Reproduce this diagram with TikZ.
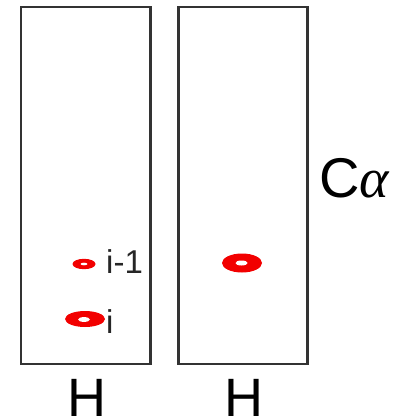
\documentclass[tikz,border=0pt]{standalone}
\usepackage{fontspec}
\setmainfont{Liberation Sans}
\newfontfamily\greekserif{Liberation Serif}
\begin{document}
\begin{tikzpicture}[x=1pt,y=-1pt,
  panel/.style={draw=black!80, line width=2.6pt},
  big/.style={font=\fontsize{54}{58}\selectfont, inner sep=0pt, anchor=base, text depth=0pt},
  lbl/.style={font=\fontsize{33}{36}\selectfont, text=black!85, inner sep=0pt, anchor=base west, text depth=0pt},
  peak/.style={fill=red!95!black}]
\useasboundingbox (0,0) rectangle (393,420);
\draw[panel] (21,7) rectangle (150.5,364);
\draw[panel] (178.5,7) rectangle (307.5,364);
% peaks
\fill[peak] (84,264) ellipse [x radius=11.5, y radius=5.2];
\fill[white] (84,264) ellipse [x radius=3.5, y radius=1.3];
\fill[peak] (85,319) ellipse [x radius=20, y radius=8];
\fill[white] (84,319.5) ellipse [x radius=6, y radius=2.4];
\fill[peak] (242,263) ellipse [x radius=20, y radius=9.5];
\fill[white] (241.5,263) ellipse [x radius=6, y radius=2.5];
% labels
\node[lbl] (l1) at (106,273) {i-1};
\node[lbl] (l2) at (106,333) {i};
\node[big] (h1) at (87,416) {H};
\node[big] (h2) at (244,416) {H};
\node[font=\fontsize{56}{60}\selectfont, inner sep=0pt, anchor=base west] (ca) at (319,197) {C{\greekserif\itshape α}};
\end{tikzpicture}
\end{document}
